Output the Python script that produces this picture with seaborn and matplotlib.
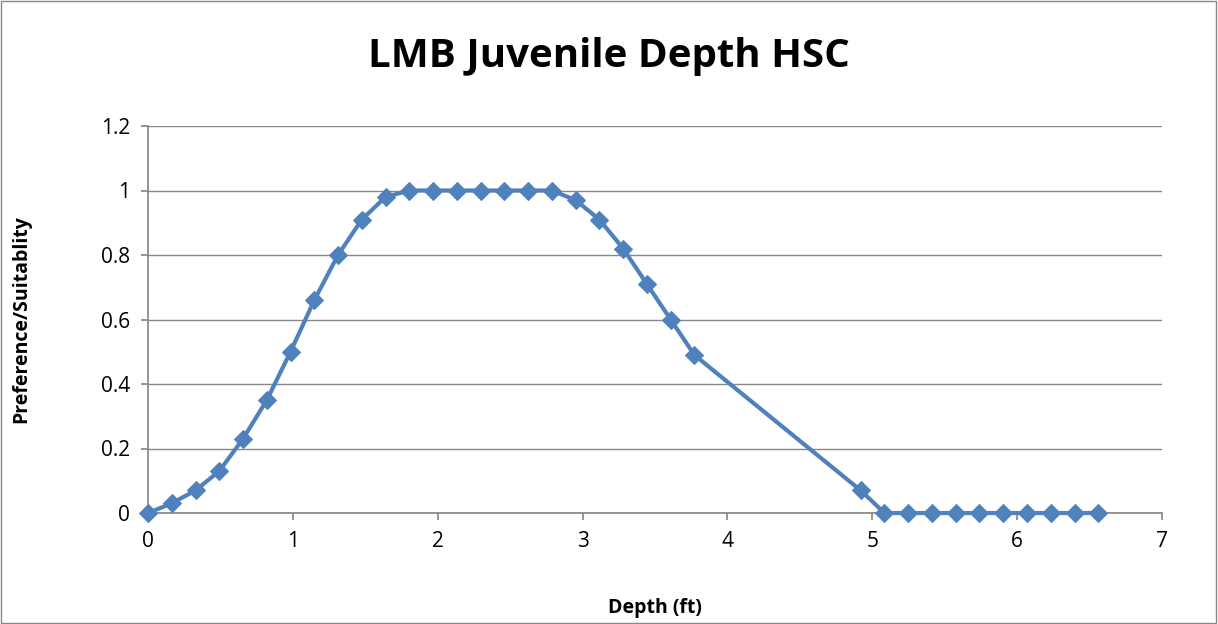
import matplotlib
matplotlib.use("Agg")
import matplotlib.pyplot as plt
import seaborn as sns
import pandas as pd

#Data
depth = [0.0, 0.164, 0.328, 0.492, 0.656, 0.82, 0.984, 1.148, 1.312, 1.476,
         1.64, 1.804, 1.968, 2.132, 2.296, 2.46, 2.624, 2.788, 2.952, 3.116,
         3.28, 3.444, 3.608, 3.772, 4.92, 5.084, 5.248, 5.412, 5.576, 5.74,
         5.904, 6.068, 6.232, 6.396, 6.56]
suitability = [0, 0.03, 0.07, 0.13, 0.23, 0.35, 0.5, 0.66, 0.8, 0.91,
               0.98, 1, 1, 1, 1, 1, 1, 1, 0.97, 0.91,
               0.82, 0.71, 0.6, 0.49, 0.07, 0, 0, 0, 0, 0,
               0, 0, 0, 0, 0]
df = pd.DataFrame({"Depth": depth, "HSC": suitability})

sns.set_theme(style="white")
plt.rcParams['font.family'] = ['Open Sans', 'DejaVu Sans']
plt.rcParams['text.color'] = 'black'
plt.rcParams['axes.labelcolor'] = 'black'
plt.rcParams['xtick.labelcolor'] = 'black'
plt.rcParams['ytick.labelcolor'] = 'black'

fig = plt.figure(figsize=(12.18, 6.24), dpi=100)
ax = fig.add_axes([148/1218, 1-513/624, (1162-148)/1218, (513-126)/624])

sns.lineplot(data=df, x="Depth", y="HSC", ax=ax, color="#4F81BD", linewidth=3,
             marker="D", markersize=9, markeredgecolor="#4F81BD", clip_on=False, zorder=3)

ax.set_xlim(0, 7)
ax.set_ylim(0, 1.2)
ax.set_xticks(range(0, 8))
ax.set_yticks([0, 0.2, 0.4, 0.6, 0.8, 1, 1.2])
ax.set_yticklabels(["0", "0.2", "0.4", "0.6", "0.8", "1", "1.2"])
ax.grid(axis="y", color="#888888", linewidth=1)
ax.tick_params(labelsize=15, length=5, direction="out", bottom=True, left=True,
               color="#888888", pad=8)
for s in ["top", "right"]:
    ax.spines[s].set_visible(False)
for s in ["left", "bottom"]:
    ax.spines[s].set_color("#888888")
ax.set_xlabel("Depth (ft)", fontsize=14, fontweight="bold")
ax.xaxis.set_label_coords(0.5, -0.22)
ax.set_ylabel("Preference/Suitablity", fontsize=14, fontweight="bold")
ax.yaxis.set_label_coords(-0.115, 0.5)
fig.text(0.5, 1-57/624, "LMB Juvenile Depth HSC", fontsize=29, fontweight="bold",
         ha="center", va="center")

#Outer border
fig.patches.append(plt.Rectangle((0.001, 0.002), 0.997, 0.996, transform=fig.transFigure,
                                 fill=False, edgecolor="#888888", linewidth=1))

plt.savefig("out.png", dpi=100)
